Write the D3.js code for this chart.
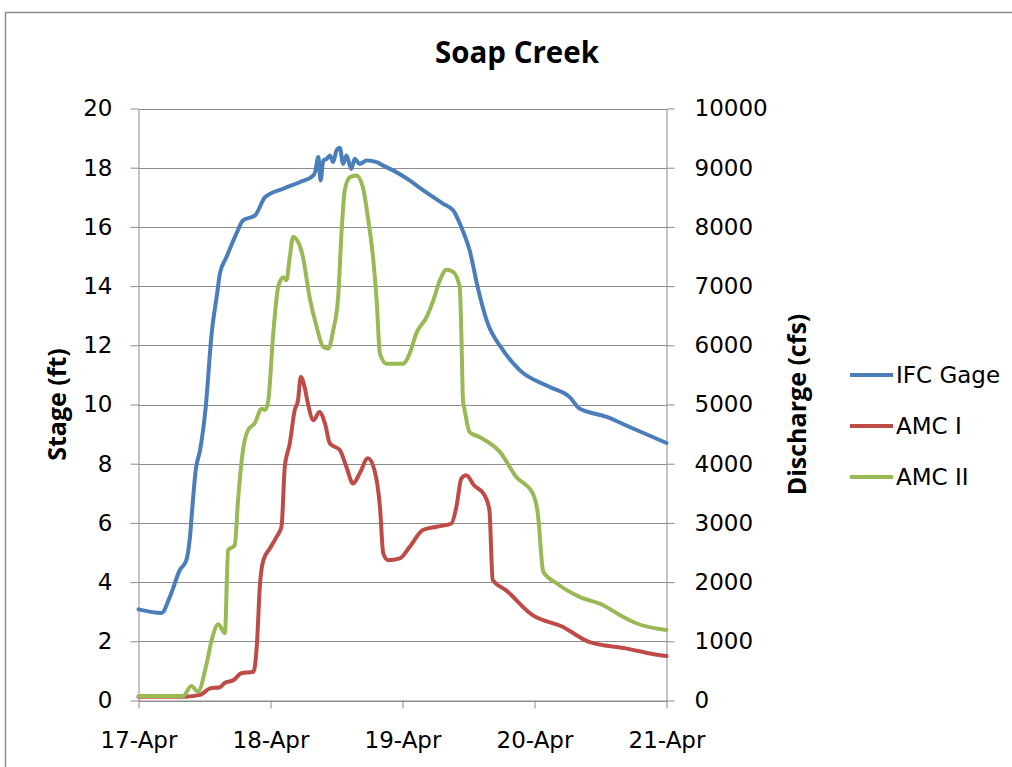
<!DOCTYPE html>
<html>
<head>
<meta charset="utf-8">
<script src="https://cdn.jsdelivr.net/npm/d3@7"></script>
<style>
  html, body { margin: 0; padding: 0; background: #fff; }
  svg { display: block; }
</style>
</head>
<body>
<svg id="chart" width="1012" height="767"></svg>
<script>
// Soap Creek flood hydrograph, 17–21 April 2013.
// Times are hours after 17-Apr 00:00.

const startDate = new Date(2013, 3, 17);
const endDate = new Date(2013, 3, 21);

// IFC Gage stage (ft), left axis
const gageHours = [0, 4.2, 5.7, 7.5, 8.7, 9.3, 9.9, 10.4, 11.2, 12.2, 13.3, 14.3, 14.8, 16.0, 17.8, 19.0, 21.2, 23.0, 26.3, 29.3, 31.8, 32.1, 32.7, 33.1, 33.6, 34.2, 34.8, 35.4, 36.0, 36.6, 37.2, 37.8, 38.7, 39.3, 40.2, 41.5, 43.3, 44.5, 46.3, 49.3, 51.8, 55.4, 57.2, 58.7, 60.2, 61.8, 63.3, 66.3, 69.3, 74.8, 78.4, 80.2, 80.8, 85.1, 89.3, 96];
const gageStage = [3.08, 2.96, 3.5, 4.4, 4.74, 5.42, 6.77, 7.78, 8.46, 9.87, 12.4, 13.75, 14.42, 14.98, 15.77, 16.22, 16.39, 17.0, 17.29, 17.51, 17.74, 17.85, 18.36, 17.57, 18.24, 18.3, 18.41, 18.19, 18.58, 18.67, 18.13, 18.41, 17.96, 18.3, 18.13, 18.24, 18.19, 18.07, 17.91, 17.57, 17.23, 16.78, 16.56, 15.99, 15.21, 13.86, 12.84, 11.83, 11.16, 10.59, 10.25, 9.86, 9.81, 9.58, 9.24, 8.7];

// AMC I modelled discharge (cfs), right axis
const amc1Hours = [0, 8.5, 11.2, 13.0, 14.8, 15.7, 17.3, 18.7, 20.9, 21.5, 22.1, 22.7, 23.9, 25.1, 26.0, 26.6, 27.5, 28.4, 29.0, 29.5, 30.2, 30.8, 31.8, 32.9, 33.9, 34.8, 36.6, 37.8, 39.0, 40.2, 41.7, 42.9, 43.9, 44.5, 45.4, 47.5, 49.3, 51.7, 54.2, 56.9, 57.8, 58.7, 59.6, 61.0, 62.9, 63.8, 64.4, 66.8, 71.6, 77.1, 81.9, 88.6, 93.5, 96];
const amc1Flow = [65, 65, 95, 205, 225, 300, 345, 460, 485, 910, 1980, 2370, 2570, 2765, 2935, 3945, 4340, 4905, 5070, 5465, 5295, 5015, 4735, 4875, 4680, 4340, 4230, 3945, 3665, 3835, 4090, 3890, 3270, 2485, 2370, 2400, 2595, 2880, 2935, 2990, 3270, 3750, 3805, 3635, 3470, 3215, 2035, 1865, 1445, 1245, 990, 880, 785, 750];

// AMC II modelled discharge (cfs), right axis
const amc2Hours = [0, 8.1, 9.6, 10.8, 12.4, 13.3, 14.5, 15.7, 16.3, 17.5, 18.1, 19.0, 19.9, 21.1, 22.4, 23.0, 23.6, 24.5, 25.4, 26.3, 26.9, 27.5, 28.1, 29.3, 29.9, 31.1, 32.4, 33.6, 34.5, 35.4, 36.3, 36.9, 37.5, 38.4, 39.6, 40.8, 41.7, 42.7, 43.3, 43.9, 45.1, 48.1, 49.3, 50.5, 52.4, 53.6, 54.8, 56.0, 57.2, 58.4, 58.7, 59.0, 59.3, 60.2, 62.0, 65.7, 68.7, 71.7, 72.6, 73.6, 76.0, 80.2, 84.5, 87.5, 90.5, 96];
const amc2Flow = [75, 75, 245, 150, 630, 1020, 1290, 1135, 2540, 2625, 3385, 4230, 4565, 4680, 4930, 4905, 5070, 6200, 6985, 7150, 7100, 7490, 7830, 7685, 7490, 6815, 6310, 5970, 5945, 6255, 6815, 7885, 8615, 8840, 8870, 8670, 8165, 7435, 6760, 5860, 5690, 5690, 5860, 6200, 6480, 6760, 7100, 7275, 7240, 6985, 6200, 5070, 4905, 4535, 4450, 4200, 3775, 3495, 3160, 2175, 1980, 1750, 1610, 1445, 1305, 1190];

const stageTicks = [0, 2, 4, 6, 8, 10, 12, 14, 16, 18, 20];
const flowTicks = [0, 1000, 2000, 3000, 4000, 5000, 6000, 7000, 8000, 9000, 10000];

const seriesNames = ["IFC Gage", "AMC I", "AMC II"];
const seriesColors = ["#4a7ebb", "#be4b48", "#98b954"];

const tickFont = "'DejaVu Sans', sans-serif";
const titleFont = "'Open Sans', sans-serif";
const gridColor = "#8c8c8c";

const svg = d3.select("#chart");

// Outer chart frame
svg.append("rect")
  .attr("x", 5.5).attr("y", 12.5)
  .attr("width", 1100).attr("height", 800)
  .attr("fill", "none").attr("stroke", "#8c8c8c").attr("stroke-width", 1.5);

const plot = { left: 138.5, right: 666.5, top: 108.5, bottom: 700.5 };

const x = d3.scaleTime().domain([startDate, endDate]).range([plot.left, plot.right]);
const yStage = d3.scaleLinear().domain([0, 20]).range([plot.bottom, plot.top]);
const yFlow = d3.scaleLinear().domain([0, 10000]).range([plot.bottom, plot.top]);

const toDate = h => new Date(startDate.getTime() + h * 3600 * 1000);

// Horizontal gridlines
svg.append("g")
  .selectAll("line")
  .data(stageTicks)
  .join("line")
  .attr("x1", plot.left).attr("x2", plot.right)
  .attr("y1", d => Math.round(yStage(d)) + 0.5)
  .attr("y2", d => Math.round(yStage(d)) + 0.5)
  .attr("stroke", gridColor).attr("stroke-width", 1);

// Axes
function styleAxis(g) {
  g.select(".domain").attr("stroke", gridColor);
  g.selectAll(".tick line").attr("stroke", gridColor);
  g.selectAll(".tick text")
    .attr("font-family", tickFont)
    .attr("font-size", 23)
    .attr("fill", "#000");
}

svg.append("g")
  .attr("transform", `translate(${plot.left},0)`)
  .call(d3.axisLeft(yStage).tickValues(stageTicks).tickSize(8).tickPadding(18).tickSizeOuter(0))
  .call(styleAxis);

svg.append("g")
  .attr("transform", `translate(${plot.right},0)`)
  .call(d3.axisRight(yFlow).tickValues(flowTicks).tickFormat(d3.format("d")).tickSize(8).tickPadding(20).tickSizeOuter(0))
  .call(styleAxis);

svg.append("g")
  .attr("transform", `translate(0,${plot.bottom})`)
  .call(d3.axisBottom(x).ticks(d3.timeDay.every(1)).tickFormat(d3.timeFormat("%d-%b")).tickSize(8).tickPadding(23).tickSizeOuter(0))
  .call(styleAxis);

// Series lines
const stageLine = d3.line()
  .x((d, i) => x(toDate(gageHours[i])))
  .y(d => yStage(d))
  .curve(d3.curveMonotoneX);

const flowLine = hours => d3.line()
  .x((d, i) => x(toDate(hours[i])))
  .y(d => yFlow(d))
  .curve(d3.curveMonotoneX);

const lines = svg.append("g").attr("fill", "none")
  .attr("stroke-width", 4).attr("stroke-linejoin", "round").attr("stroke-linecap", "round");

lines.append("path").attr("d", stageLine(gageStage)).attr("stroke", seriesColors[0]);
lines.append("path").attr("d", flowLine(amc1Hours)(amc1Flow)).attr("stroke", seriesColors[1]);
lines.append("path").attr("d", flowLine(amc2Hours)(amc2Flow)).attr("stroke", seriesColors[2]);

// Titles
svg.append("text")
  .attr("x", 517).attr("y", 63)
  .attr("text-anchor", "middle")
  .attr("font-family", titleFont).attr("font-weight", 700).attr("font-size", 29.5)
  .text("Soap Creek");

svg.append("text")
  .attr("transform", `translate(66,${(plot.top + plot.bottom) / 2}) rotate(-90)`)
  .attr("text-anchor", "middle")
  .attr("font-family", titleFont).attr("font-weight", 700).attr("font-size", 25)
  .text("Stage (ft)");

svg.append("text")
  .attr("transform", `translate(806,${(plot.top + plot.bottom) / 2}) rotate(-90)`)
  .attr("text-anchor", "middle")
  .attr("font-family", titleFont).attr("font-weight", 700).attr("font-size", 25)
  .text("Discharge (cfs)");

// Legend
const legend = svg.append("g");
const legendY = [375, 426, 477];
seriesNames.forEach((name, i) => {
  legend.append("line")
    .attr("x1", 850).attr("x2", 893)
    .attr("y1", legendY[i]).attr("y2", legendY[i])
    .attr("stroke", seriesColors[i]).attr("stroke-width", 4);
  legend.append("text")
    .attr("x", 896).attr("y", legendY[i])
    .attr("dy", "0.36em")
    .attr("font-family", tickFont).attr("font-size", 23)
    .text(name);
});
</script>
</body>
</html>
